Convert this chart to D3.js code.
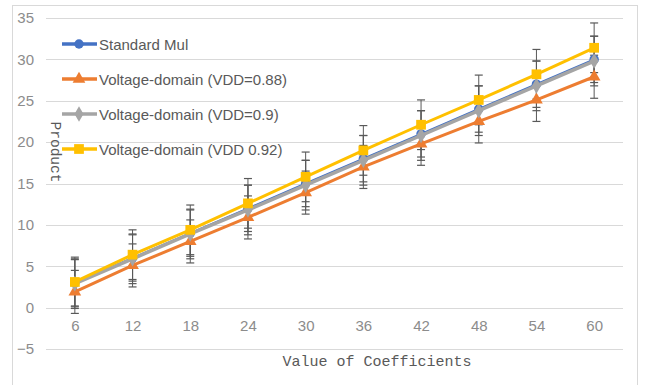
<!DOCTYPE html>
<head>
<meta charset="utf-8">
<script src="https://d3js.org/d3.v7.min.js"></script>
<style>
  body { margin: 0; background: #fff; }
  .tick text { font-family: "Liberation Sans", sans-serif; }
</style>
</head>
<body>
<script>
var categories = ["6", "12", "18", "24", "30", "36", "42", "48", "54", "60"];
var seriesNames = ["Standard Mul", "Voltage-domain (VDD=0.88)", "Voltage-domain (VDD=0.9)", "Voltage-domain (VDD 0.92)"];
var standardMul = [3, 6, 9, 12, 15, 18, 21, 24, 27, 30];
var vdd088 = [1.9, 5.1, 8.0, 10.9, 13.9, 17.0, 19.8, 22.5, 25.1, 27.9];
var vdd090 = [2.9, 5.9, 8.9, 11.8, 14.8, 17.8, 20.8, 23.8, 26.8, 29.8];
var vdd092 = [3.1, 6.4, 9.4, 12.6, 15.8, 19.0, 22.1, 25.1, 28.2, 31.4];
var errors = [2.8, 2.6, 3.0, 3.0];
var yTicks = [-5, 0, 5, 10, 15, 20, 25, 30, 35];

var colors = ["#4472C4", "#ED7D31", "#A5A5A5", "#FFC000"];
var lineW = [2, 3, 3.5, 3];
var symbols = [d3.symbolCircle, d3.symbolTriangle, d3.symbolDiamond, d3.symbolSquare];
var symSize = [70, 70, 70, 95];
var values = [standardMul, vdd088, vdd090, vdd092];

var width = 645, height = 385;
var svg = d3.select("body").append("svg")
  .attr("width", width).attr("height", height);

// frame
svg.append("rect")
  .attr("x", 12.5).attr("y", 5.5)
  .attr("width", 625).attr("height", 400)
  .attr("fill", "none").attr("stroke", "#d9d9d9");

var x = d3.scalePoint().domain(categories).range([46, 623]).padding(0.5);
var y = d3.scaleLinear().domain([-5, 35]).range([349, 18]);

// gridlines
svg.append("g").selectAll("line")
  .data(yTicks).enter().append("line")
  .attr("x1", 46).attr("x2", 623)
  .attr("y1", function(d) { return Math.round(y(d)) + 0.5; })
  .attr("y2", function(d) { return Math.round(y(d)) + 0.5; })
  .attr("stroke", "#d9d9d9");

// y axis labels
var yAxis = svg.append("g")
  .attr("transform", "translate(40,0)")
  .call(d3.axisLeft(y).tickValues(yTicks).tickSize(0).tickPadding(6));
yAxis.select(".domain").remove();
yAxis.selectAll("text").attr("font-size", 15).attr("fill", "#8c8c8c");

// x axis labels
var xAxis = svg.append("g")
  .attr("transform", "translate(0," + y(0) + ")")
  .call(d3.axisBottom(x).tickSize(0).tickPadding(13));
xAxis.select(".domain").remove();
xAxis.selectAll("text").attr("font-size", 15).attr("fill", "#8c8c8c");

// error bars
values.forEach(function(vals, i) {
  var g = svg.append("g");
  vals.forEach(function(v, j) {
    var cx = x(categories[j]);
    var lo = y(v - errors[i]), hi = y(v + errors[i]);
    g.append("line").attr("x1", cx).attr("x2", cx).attr("y1", lo).attr("y2", hi)
      .attr("stroke", "#595959").attr("stroke-width", 1);
    [lo, hi].forEach(function(yy) {
      g.append("line").attr("x1", cx - 4).attr("x2", cx + 4).attr("y1", yy).attr("y2", yy)
        .attr("stroke", "#595959").attr("stroke-width", 1.2);
    });
  });
});

// lines and markers
var line = d3.line()
  .x(function(d, j) { return x(categories[j]); })
  .y(function(d) { return y(d); });

values.forEach(function(vals, i) {
  svg.append("path")
    .datum(vals)
    .attr("d", line)
    .attr("fill", "none")
    .attr("stroke", colors[i])
    .attr("stroke-width", lineW[i]);
  svg.append("g").selectAll("path")
    .data(vals).enter().append("path")
    .attr("d", d3.symbol().type(symbols[i]).size(symSize[i]))
    .attr("transform", function(d, j) { return "translate(" + x(categories[j]) + "," + y(d) + ")"; })
    .attr("fill", colors[i]);
});

// legend
var legend = svg.append("g");
seriesNames.forEach(function(name, i) {
  var ly = 44 + i * 35;
  legend.append("line").attr("x1", 62).attr("x2", 97).attr("y1", ly).attr("y2", ly)
    .attr("stroke", colors[i]).attr("stroke-width", 3.5);
  legend.append("path")
    .attr("d", d3.symbol().type(symbols[i]).size(symSize[i]))
    .attr("transform", "translate(79," + ly + ")")
    .attr("fill", colors[i]);
  legend.append("text")
    .attr("x", 99).attr("y", ly + 5.5)
    .attr("font-family", "Liberation Sans, sans-serif")
    .attr("font-size", 15)
    .attr("fill", "#595959")
    .text(name);
});

// axis titles
svg.append("text")
  .attr("x", 377).attr("y", 366)
  .attr("text-anchor", "middle")
  .attr("font-family", "Liberation Mono, monospace")
  .attr("font-size", 15)
  .attr("fill", "#595959")
  .text("Value of Coefficients");

svg.append("text")
  .attr("transform", "translate(51,152) rotate(90)")
  .attr("text-anchor", "middle")
  .attr("font-family", "Liberation Mono, monospace")
  .attr("font-size", 14.5)
  .attr("fill", "#595959")
  .text("Product");
</script>
</body>
</html>
